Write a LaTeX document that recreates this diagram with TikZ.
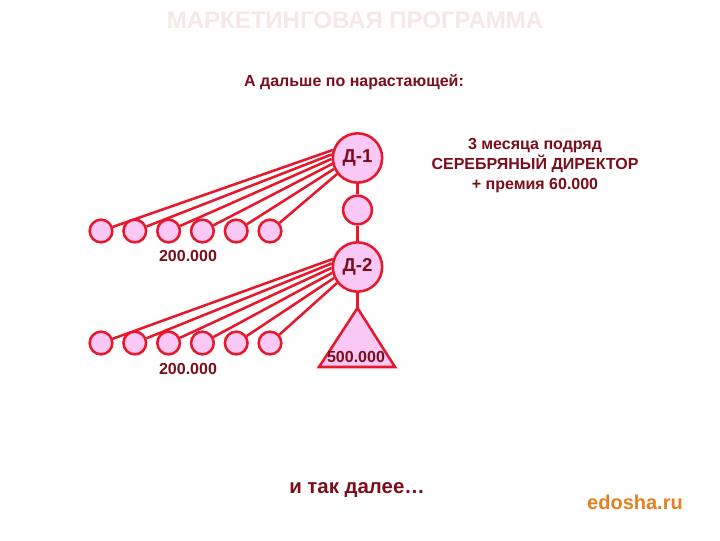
\documentclass[tikz,border=0pt]{standalone}
\usepackage{fontspec}
\setmainfont{Liberation Sans}
\definecolor{lred}{RGB}{232,24,44}
\definecolor{pfill}{RGB}{250,200,245}
\definecolor{dred}{RGB}{122,14,28}
\definecolor{ttl}{RGB}{246,232,228}
\definecolor{ornge}{RGB}{228,128,32}
\begin{document}
\begin{tikzpicture}[x=0.75pt,y=-0.75pt,
  conn/.style={draw=lred,line width=1.9pt},
  bigc/.style={circle,draw=lred,fill=pfill,line width=1.9pt,minimum size=37pt,inner sep=0pt,font=\bfseries\fontsize{14}{16}\selectfont,text=dred},
  midc/.style={circle,draw=lred,fill=pfill,line width=1.9pt,minimum size=21.5pt,inner sep=0pt},
  leaf/.style={circle,draw=lred,fill=pfill,line width=1.9pt,minimum size=17pt,inner sep=0pt},
  lbl/.style={text=dred,font=\bfseries\fontsize{12}{14}\selectfont,inner sep=0pt}]
\useasboundingbox (0,0) rectangle (720,540);
\fill[white] (0,0) rectangle (720,540);
\node[text=ttl,font=\bfseries\fontsize{18}{20}\selectfont] (title) at (355,20) {МАРКЕТИНГОВАЯ ПРОГРАММА};
\node[lbl] (sub) at (354,82) {А дальше по нарастающей:};
\node[lbl,align=center,font=\bfseries\fontsize{12}{15}\selectfont] (info) at (535,166) {3 месяца подряд\\СЕРЕБРЯНЫЙ ДИРЕКТОР\\+ премия 60.000};
% main column
\node[bigc] (d1) at (357.5,158) {Д-1};
\node[midc] (m) at (357.5,210) {};
\node[bigc] (d2) at (357.5,267) {Д-2};
\coordinate (apex) at (357.5,308);
\coordinate (bl) at (319,367);
\coordinate (br) at (395,367);
\draw[conn] (d1) -- (m);
\draw[conn] (m) -- (d2);
\draw[conn] (d2) -- (apex);
\draw[lred,fill=pfill,line width=1.9pt,line join=miter] (apex) -- (br) -- (bl) -- cycle;
\node[lbl] (t500) at (356,357) {500.000};
% leaves
\foreach \i/\ang in {1/162,2/172,3/182,4/193,5/205,6/218}{
  \pgfmathsetmacro{\xx}{101+33.8*(\i-1)}
  \node[leaf] (a\i) at (\xx,231) {};
  \node[leaf] (b\i) at (\xx,343) {};
  \draw[conn] (a\i) -- (d1.\ang);
  \draw[conn] (b\i) -- (d2.\ang);
}
\node[lbl] (v1) at (188,256) {200.000};
\node[lbl] (v2) at (188,369) {200.000};
\node[text=dred,font=\bfseries\fontsize{15.3}{18}\selectfont] (etc) at (357,490) {и так далее…};
\node[text=ornge,font=\bfseries\fontsize{15}{18}\selectfont] (logo) at (635,502) {edosha.ru};
\end{tikzpicture}
\end{document}
